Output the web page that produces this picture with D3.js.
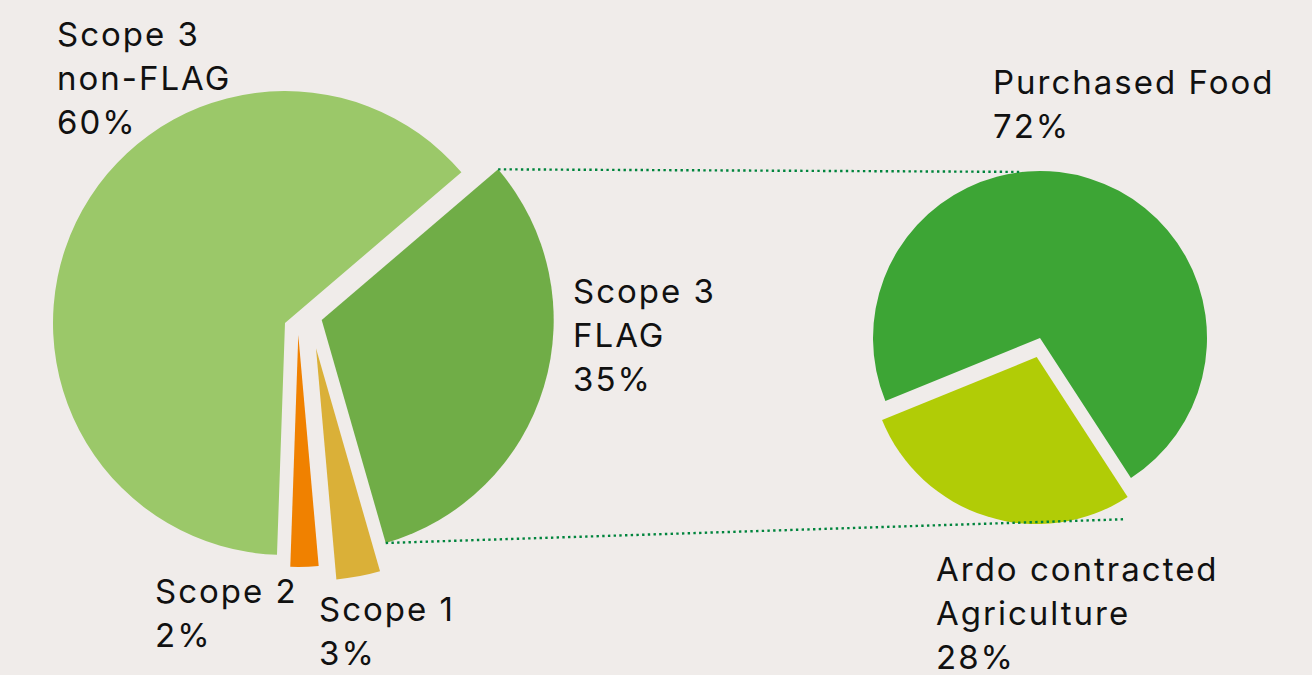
<!DOCTYPE html>
<html>
<head>
<meta charset="utf-8">
<script src="https://cdn.jsdelivr.net/npm/d3@7"></script>
<style>
  html, body { margin: 0; padding: 0; background: #f0ecea; }
  svg { display: block; }
  text { font-family: Inter, "Noto Sans", sans-serif; fill: #111; letter-spacing: 2px; }
</style>
</head>
<body>
<svg id="chart"></svg>
<script>
// left pie, clockwise from the split slice
var mainNames = ['Scope 3 FLAG', 'Scope 1', 'Scope 2', 'Scope 3 non-FLAG'];
var mainShares = [31.8, 3.05, 1.95, 63.2];   // drawn shares
var mainLabels = [['Scope 3', 'FLAG', '35%'], ['Scope 1', '3%'], ['Scope 2', '2%'], ['Scope 3', 'non-FLAG', '60%']];
var mainColors = ['#70ad47', '#dab038', '#f08100', '#9bc869'];

// right pie (breakdown of Scope 3 FLAG)
var subNames = ['Ardo contracted Agriculture', 'Purchased Food'];
var subShares = [28, 72];
var subLabels = [['Ardo contracted', 'Agriculture', '28%'], ['Purchased Food', '72%']];
var subColors = ['#b1cc06', '#3da535'];

var W = 1312, H = 675;
var svg = d3.select('#chart').attr('width', W).attr('height', H);
var rad = function(d) { return d * Math.PI / 180; };

// left pie layout
var left = {cx: 300, cy: 330, r: 232, start: 49.5};
// each slice is pulled out on its own
var leftOffsets = [[21.7, -10], [16, 18.3], [-1.7, 5], [-15, -7]];
var leftLabelPos = [[573, 303], [319, 621], [155, 603], [57, 46]];

// right pie layout
var right = {cx: 1040, cy: 338, r: 167, start: 147};
var rightOffsets = [[-3.3, 19], [0, 0]];
var rightLabelPos = [[936, 581], [993, 94]];

var lineH = 44;

function drawPie(cfg, shares, colors, offsets) {
  var pie = d3.pie().sort(null).value(function(d) { return d; })
    .startAngle(rad(cfg.start)).endAngle(rad(cfg.start + 360));
  var arc = d3.arc().innerRadius(0).outerRadius(cfg.r);
  var arcs = pie(shares);
  var g = svg.append('g').attr('transform', 'translate(' + cfg.cx + ',' + cfg.cy + ')');
  g.selectAll('path')
    .data(arcs)
    .enter().append('path')
    .attr('transform', function(d, i) { return 'translate(' + offsets[i][0] + ',' + offsets[i][1] + ')'; })
    .attr('d', arc)
    .attr('fill', function(d, i) { return colors[i]; });
  return arcs;
}

function polar(cx, cy, r, a) {
  return [cx + r * Math.sin(a), cy - r * Math.cos(a)];
}

var leftArcs = drawPie(left, mainShares, mainColors, leftOffsets);
var rightArcs = drawPie(right, subShares, subColors, rightOffsets);

// connector lines from the split slice to the second pie
var flag = leftArcs[0];
var p1 = polar(left.cx + leftOffsets[0][0], left.cy + leftOffsets[0][1], left.r, flag.startAngle);
var p2 = polar(left.cx + leftOffsets[0][0], left.cy + leftOffsets[0][1], left.r, flag.endAngle);
var q1 = polar(right.cx, right.cy, right.r, rad(354));
var q2 = polar(right.cx, right.cy, 200, rad(155));

svg.selectAll('line.conn')
  .data([[p1, q1], [p2, q2]])
  .enter().append('line')
  .attr('class', 'conn')
  .attr('x1', function(d) { return d[0][0]; })
  .attr('y1', function(d) { return d[0][1]; })
  .attr('x2', function(d) { return d[1][0]; })
  .attr('y2', function(d) { return d[1][1]; })
  .attr('stroke', '#00843d')
  .attr('stroke-width', 2.4)
  .attr('stroke-dasharray', '2.4 3.3');

// labels
function drawLabels(labels, pos) {
  labels.forEach(function(lines, i) {
    var t = svg.append('text')
      .attr('x', pos[i][0])
      .attr('y', pos[i][1])
      .attr('font-size', 33);
    lines.forEach(function(s, j) {
      t.append('tspan')
        .attr('x', pos[i][0])
        .attr('y', pos[i][1] + j * lineH)
        .text(s);
    });
  });
}
drawLabels(mainLabels, leftLabelPos);
drawLabels(subLabels, rightLabelPos);
</script>
</body>
</html>
